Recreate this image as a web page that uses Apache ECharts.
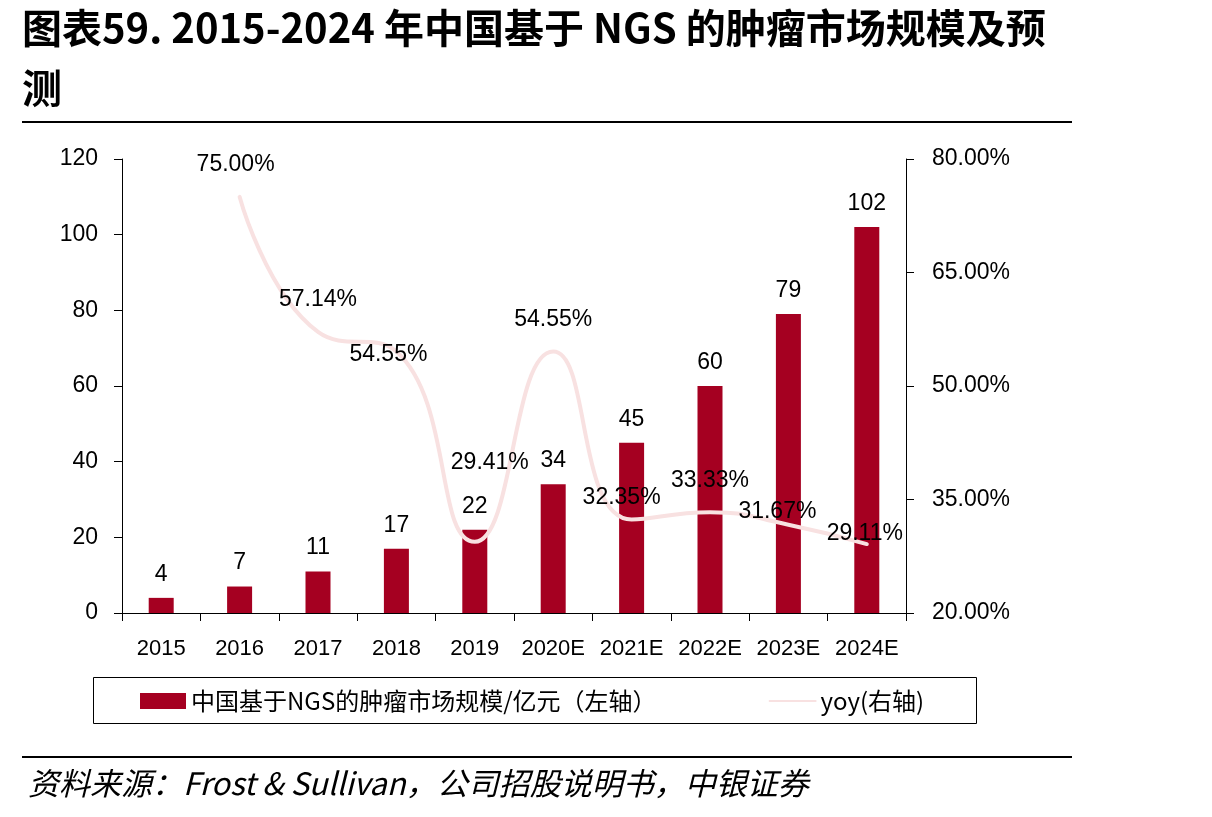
<!DOCTYPE html>
<html>
<head>
<meta charset="utf-8">
<script src="https://cdn.jsdelivr.net/npm/echarts@6/dist/echarts.min.js"></script>
<style>
  html, body { margin: 0; padding: 0; background: #fff; }
  #chart { width: 1212px; height: 817px; }
</style>
</head>
<body>
<div id="chart"></div>
<script>
const years = ['2015', '2016', '2017', '2018', '2019', '2020E', '2021E', '2022E', '2023E', '2024E'];
const marketSize = [4, 7, 11, 17, 22, 34, 45, 60, 79, 102];
const yoy = [null, 75.00, 57.14, 54.55, 29.41, 54.55, 32.35, 33.33, 31.67, 29.11];
const barName = '中国基于NGS的肿瘤市场规模/亿元（左轴）';
const lineName = 'yoy(右轴)';

// label nudges for the yoy labels, roughly where the report put them
const yoyLabelOffsets = [
  [0, 0], [-4, -6], [0, -6], [-8, 30], [15, -53], [0, -5], [-10, 5], [0, -5], [-11, 13], [-2, 16],
];

const font = 'Liberation Sans, Arial, Noto Sans CJK SC, sans-serif';
const cjkFont = 'Noto Sans CJK SC, Liberation Sans, sans-serif';
const lineColor = '#F8E1E1';

const chart = echarts.init(document.getElementById('chart'));

const option = {
  backgroundColor: '#fff',
  animation: false,
  textStyle: { fontFamily: font },
  title: {
    text: '图表59. 2015-2024 年中国基于 NGS 的肿瘤市场规模及预\n测',
    left: 22,
    top: -2,
    padding: 0,
    textStyle: {
      fontFamily: cjkFont,
      fontSize: 40,
      fontWeight: 'bold',
      color: '#000',
      lineHeight: 60,
    },
  },
  grid: {
    left: 122,
    right: 306,
    top: 159,
    bottom: 204,
  },
  legend: {
    left: 93,
    top: 679,
    padding: [10, 0, 10, 47],
    itemGap: 112,
    itemWidth: 46,
    itemHeight: 16,
    textStyle: { fontFamily: cjkFont, fontSize: 24, color: '#000' },
    data: [
      { name: barName, icon: 'rect' },
      { name: lineName },
    ],
  },
  xAxis: {
    type: 'category',
    data: years,
    axisLine: { lineStyle: { color: '#000', width: 1 } },
    axisTick: { show: true, length: 8, alignWithLabel: false, lineStyle: { color: '#000' } },
    axisLabel: { color: '#000', fontSize: 22, margin: 25, interval: 0 },
  },
  yAxis: [
    {
      type: 'value',
      min: 0,
      max: 120,
      interval: 20,
      splitLine: { show: false },
      axisLine: { show: true, lineStyle: { color: '#000' } },
      axisTick: { show: true, length: 8, lineStyle: { color: '#000' } },
      axisLabel: { color: '#000', fontSize: 23, margin: 24 },
    },
    {
      type: 'value',
      min: 20,
      max: 80,
      interval: 15,
      splitLine: { show: false },
      axisLine: { show: true, lineStyle: { color: '#000' } },
      axisTick: { show: true, length: 8, lineStyle: { color: '#000' } },
      axisLabel: {
        color: '#000',
        fontSize: 23,
        margin: 26,
        formatter: (v) => v.toFixed(2) + '%',
      },
    },
  ],
  series: [
    {
      name: barName,
      type: 'bar',
      data: marketSize,
      barWidth: 25,
      itemStyle: { color: '#A50021' },
      label: {
        show: true,
        position: 'top',
        distance: 12,
        color: '#000',
        fontSize: 23,
      },
      z: 2,
    },
    {
      name: lineName,
      type: 'line',
      yAxisIndex: 1,
      smooth: 0.5,
      symbol: 'circle',
      symbolSize: 2,
      showSymbol: true,
      data: yoy.map((v, i) => ({
        value: v,
        label: { offset: yoyLabelOffsets[i] },
      })),
      lineStyle: { color: lineColor, width: 4, cap: 'round' },
      itemStyle: { color: 'rgba(0,0,0,0)', borderWidth: 0 },
      label: {
        show: true,
        position: 'top',
        distance: 14,
        color: '#000',
        fontSize: 23,
        formatter: (p) => (p.value == null ? '' : p.value.toFixed(2) + '%'),
      },
      z: 3,
    },
  ],
  graphic: [
    {
      type: 'line',
      shape: { x1: 22, y1: 122, x2: 1072, y2: 122 },
      style: { stroke: '#000', lineWidth: 2 },
    },
    {
      type: 'rect',
      shape: { x: 93.5, y: 677.5, width: 883, height: 46 },
      style: { fill: 'none', stroke: '#000', lineWidth: 1 },
    },
    {
      type: 'line',
      shape: { x1: 22, y1: 757, x2: 1072, y2: 757 },
      style: { stroke: '#000', lineWidth: 2 },
    },
    {
      type: 'text',
      left: 28,
      top: 768,
      style: {
        text: '资料来源：Frost & Sullivan，公司招股说明书，中银证券',
        font: 'italic 31px ' + cjkFont,
        fill: '#000',
      },
    },
  ],
};

chart.setOption(option);
</script>
</body>
</html>
